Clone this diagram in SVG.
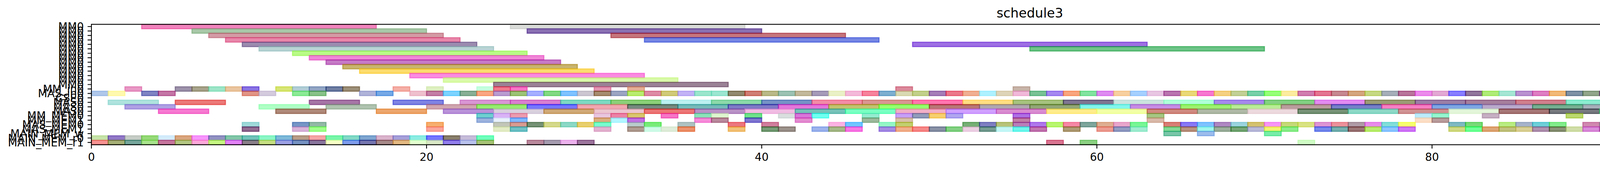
<svg xmlns="http://www.w3.org/2000/svg" width="5058" height="438" viewBox="0 0 5058 438">
<style>
.bars rect{fill:currentColor;stroke:currentColor;fill-opacity:.6;stroke-opacity:.6;stroke-width:2.6px;vector-effect:non-scaling-stroke}
.t{font-family:"DejaVu Sans","Liberation Sans",sans-serif;font-size:27.8px;fill:#000}
.yl{text-anchor:end}
.xl{text-anchor:middle}
.tk{stroke:#000;stroke-width:2.2px}
</style>
<rect width="5058" height="438" fill="#fff"/>
<text class="t xl" x="2636.4" y="45" style="font-size:33.3px">schedule3</text>
<g class="bars" transform="translate(234 62.3) scale(42.9 11.42)">
<g id="r0"><rect x="3" y="0" width="14" height="1" color="#e8308f"/><rect x="25" y="0" width="14" height="1" color="#c0c4c0"/></g>
<g id="r1"><rect x="6" y="1" width="14" height="1" color="#6ea36e"/><rect x="26" y="1" width="14" height="1" color="#3a117f"/></g>
<g id="r2"><rect x="7" y="2" width="14" height="1" color="#b75869"/><rect x="31" y="2" width="14" height="1" color="#a01b26"/></g>
<g id="r3"><rect x="8" y="3" width="14" height="1" color="#d93771"/><rect x="33" y="3" width="14" height="1" color="#1b37d2"/></g>
<g id="r4"><rect x="9" y="4" width="14" height="1" color="#583f7a"/><rect x="49" y="4" width="14" height="1" color="#5d11d2"/></g>
<g id="r5"><rect x="10" y="5" width="14" height="1" color="#8ab7b7"/><rect x="56" y="5" width="14" height="1" color="#0d9d37"/></g>
<g id="r6"><rect x="12" y="6" width="14" height="1" color="#8af737"/></g>
<g id="r7"><rect x="13" y="7" width="14" height="1" color="#e637bc"/></g>
<g id="r8"><rect x="14" y="8" width="14" height="1" color="#a021a0"/></g>
<g id="r9"><rect x="15" y="9" width="14" height="1" color="#a3820d"/></g>
<g id="r10"><rect x="16" y="10" width="14" height="1" color="#fac50d"/></g>
<g id="r11"><rect x="19" y="11" width="14" height="1" color="#f73fcd"/></g>
<g id="r12"><rect x="21" y="12" width="14" height="1" color="#c1f771"/></g>
<g id="r13"><rect x="24" y="13" width="14" height="1" color="#582f50"/></g>
<g id="r14">
<rect x="2" y="14" width="1" height="1" color="#d9559f"/><rect x="5" y="14" width="1" height="1" color="#5b4a72"/><rect x="6" y="14" width="1" height="1" color="#6d6540"/><rect x="7" y="14" width="1" height="1" color="#5ed4a3"/><rect x="8" y="14" width="1" height="1" color="#dca060"/><rect x="9" y="14" width="1" height="1" color="#3d17d0"/><rect x="11" y="14" width="1" height="1" color="#bdd41a"/><rect x="12" y="14" width="1" height="1" color="#7eaebd"/><rect x="13" y="14" width="1" height="1" color="#4a6a9c"/><rect x="14" y="14" width="1" height="1" color="#0f2866"/><rect x="15" y="14" width="1" height="1" color="#5c4520"/><rect x="18" y="14" width="1" height="1" color="#ec7a6c"/><rect x="20" y="14" width="1" height="1" color="#c8e59a"/><rect x="23" y="14" width="1" height="1" color="#a0ffca"/><rect x="24" y="14" width="1" height="1" color="#e41f40"/><rect x="25" y="14" width="1" height="1" color="#f21aa0"/><rect x="30" y="14" width="1" height="1" color="#d1507e"/><rect x="32" y="14" width="1" height="1" color="#d27a50"/><rect x="48" y="14" width="1" height="1" color="#c33d5a"/><rect x="55" y="14" width="1" height="1" color="#a48270"/>
</g>
<g id="r15">
<rect x="0" y="15" width="1" height="1" color="#7aa4dc"/><rect x="1" y="15" width="1" height="1" color="#fff57a"/><rect x="3" y="15" width="1" height="1" color="#2a3299"/><rect x="4" y="15" width="1" height="1" color="#9c1a6a"/><rect x="9" y="15" width="1" height="1" color="#cd4f36"/><rect x="10" y="15" width="1" height="1" color="#b8a8c8"/><rect x="12" y="15" width="1" height="1" color="#40dc50"/><rect x="13" y="15" width="1" height="1" color="#3a9a3a"/><rect x="16" y="15" width="1" height="1" color="#7a80c0"/><rect x="17" y="15" width="1" height="1" color="#1a6fd6"/><rect x="19" y="15" width="1" height="1" color="#e596ad"/><rect x="20" y="15" width="1" height="1" color="#9c2a6a"/><rect x="21" y="15" width="1" height="1" color="#26b8ff"/><rect x="22" y="15" width="1" height="1" color="#3a7a50"/><rect x="23" y="15" width="1" height="1" color="#f56a30"/><rect x="24" y="15" width="1" height="1" color="#8a5ab0"/><rect x="25" y="15" width="1" height="1" color="#5c9a1a"/><rect x="26" y="15" width="1" height="1" color="#6a7aff"/><rect x="27" y="15" width="1" height="1" color="#30c030"/><rect x="28" y="15" width="1" height="1" color="#2a9aff"/><rect x="29" y="15" width="1" height="1" color="#a8a0b0"/><rect x="30" y="15" width="1" height="1" color="#6a4010"/><rect x="31" y="15" width="1" height="1" color="#5a6a9a"/><rect x="32" y="15" width="1" height="1" color="#8ae010"/><rect x="33" y="15" width="1" height="1" color="#c8406a"/><rect x="34" y="15" width="1" height="1" color="#b0a620"/><rect x="35" y="15" width="1" height="1" color="#9a80f0"/><rect x="36" y="15" width="1" height="1" color="#5ad6ab"/><rect x="37" y="15" width="1" height="1" color="#5ad6b0"/>
<rect x="38" y="15" width="1" height="1" color="#4a3c10"/><rect x="39" y="15" width="1" height="1" color="#b02a1a"/><rect x="40" y="15" width="1" height="1" color="#8a8a3a"/><rect x="41" y="15" width="1" height="1" color="#5a9a80"/><rect x="42" y="15" width="1" height="1" color="#9a8a5a"/><rect x="43" y="15" width="1" height="1" color="#6a5a8a"/><rect x="44" y="15" width="1" height="1" color="#dce6a0"/><rect x="45" y="15" width="1" height="1" color="#ec8ac0"/><rect x="46" y="15" width="1" height="1" color="#f0305a"/><rect x="47" y="15" width="1" height="1" color="#2a7ab0"/><rect x="48" y="15" width="1" height="1" color="#c0c080"/><rect x="49" y="15" width="1" height="1" color="#9ab040"/><rect x="50" y="15" width="1" height="1" color="#6a2a8a"/><rect x="51" y="15" width="1" height="1" color="#e02040"/><rect x="52" y="15" width="1" height="1" color="#e67a4a"/><rect x="53" y="15" width="1" height="1" color="#7ae8ff"/><rect x="54" y="15" width="1" height="1" color="#c8b88a"/><rect x="55" y="15" width="1" height="1" color="#e68ac0"/><rect x="56" y="15" width="1" height="1" color="#209a50"/><rect x="57" y="15" width="1" height="1" color="#6a3ae6"/><rect x="58" y="15" width="1" height="1" color="#f56a2a"/><rect x="59" y="15" width="1" height="1" color="#30d060"/><rect x="60" y="15" width="1" height="1" color="#c840e6"/><rect x="61" y="15" width="1" height="1" color="#f2b060"/><rect x="62" y="15" width="1" height="1" color="#6ab0ff"/><rect x="63" y="15" width="1" height="1" color="#d8a0d0"/><rect x="64" y="15" width="1" height="1" color="#8a1a7a"/><rect x="65" y="15" width="1" height="1" color="#dcc020"/><rect x="66" y="15" width="1" height="1" color="#f020b0"/><rect x="67" y="15" width="1" height="1" color="#ecb030"/><rect x="68" y="15" width="1" height="1" color="#9ab050"/><rect x="69" y="15" width="1" height="1" color="#20b070"/><rect x="70" y="15" width="1" height="1" color="#50ff20"/><rect x="71" y="15" width="1" height="1" color="#f8e060"/><rect x="72" y="15" width="1" height="1" color="#b02a7a"/><rect x="73" y="15" width="1" height="1" color="#d01a4a"/><rect x="74" y="15" width="1" height="1" color="#a03a4a"/>
<rect x="75" y="15" width="1" height="1" color="#b86a2a"/><rect x="76" y="15" width="1" height="1" color="#a0c030"/><rect x="77" y="15" width="1" height="1" color="#6a7a8a"/><rect x="78" y="15" width="1" height="1" color="#8a1a5a"/><rect x="79" y="15" width="1" height="1" color="#e040e0"/><rect x="80" y="15" width="1" height="1" color="#d070b8"/><rect x="81" y="15" width="1" height="1" color="#3a2aff"/><rect x="82" y="15" width="1" height="1" color="#4a1a5a"/><rect x="83" y="15" width="1" height="1" color="#7ae020"/><rect x="84" y="15" width="1" height="1" color="#6ad6b8"/><rect x="85" y="15" width="1" height="1" color="#8a4ab0"/><rect x="86" y="15" width="1" height="1" color="#c82a9a"/><rect x="87" y="15" width="1" height="1" color="#e88a20"/><rect x="88" y="15" width="1" height="1" color="#2a4a6a"/><rect x="89" y="15" width="1" height="1" color="#4a6a40"/><rect x="90" y="15" width="1" height="1" color="#5a1a6a"/><rect x="91" y="15" width="1" height="1" color="#c0903a"/><rect x="92" y="15" width="1" height="1" color="#d0dcd8"/><rect x="93" y="15" width="1" height="1" color="#7a9a8a"/><rect x="94" y="15" width="1" height="1" color="#ff2a8a"/><rect x="95" y="15" width="1" height="1" color="#a01ae6"/><rect x="96" y="15" width="1" height="1" color="#4a3a30"/><rect x="97" y="15" width="1" height="1" color="#a0a4ac"/><rect x="98" y="15" width="1" height="1" color="#7a4a7a"/><rect x="99" y="15" width="1" height="1" color="#e02a5a"/><rect x="100" y="15" width="1" height="1" color="#1a4a3a"/><rect x="101" y="15" width="1" height="1" color="#209aff"/><rect x="102" y="15" width="1" height="1" color="#ff7a30"/><rect x="103" y="15" width="1" height="1" color="#3a7ab0"/><rect x="104" y="15" width="1" height="1" color="#6ae620"/><rect x="105" y="15" width="1" height="1" color="#8ae07a"/><rect x="106" y="15" width="1" height="1" color="#b87a2a"/><rect x="107" y="15" width="1" height="1" color="#30aac0"/>
</g>
<g id="r16"></g>
<g id="r17">
<rect x="1" y="17" width="3" height="1" color="#7ad0c8"/><rect x="5" y="17" width="3" height="1" color="#e02020"/><rect x="13" y="17" width="3" height="1" color="#6a1a6a"/><rect x="18" y="17" width="3" height="1" color="#2a30d0"/><rect x="22" y="17" width="3" height="1" color="#c050b8"/><rect x="25" y="17" width="3" height="1" color="#c02ab0"/><rect x="28" y="17" width="3" height="1" color="#2ac09a"/><rect x="31" y="17" width="3" height="1" color="#40b020"/><rect x="34" y="17" width="3" height="1" color="#90e6e8"/><rect x="37" y="17" width="3" height="1" color="#40c070"/><rect x="40" y="17" width="3" height="1" color="#1a4aa0"/><rect x="43" y="17" width="3" height="1" color="#ea406a"/><rect x="46" y="17" width="3" height="1" color="#c0504a"/><rect x="49" y="17" width="3" height="1" color="#ff1a7a"/><rect x="52" y="17" width="3" height="1" color="#ffc830"/><rect x="55" y="17" width="3" height="1" color="#6a9a2a"/><rect x="58" y="17" width="3" height="1" color="#2a1a4a"/><rect x="61" y="17" width="3" height="1" color="#a8d0c8"/><rect x="64" y="17" width="3" height="1" color="#7affc0"/><rect x="67" y="17" width="3" height="1" color="#6a3ae0"/><rect x="70" y="17" width="3" height="1" color="#30b030"/><rect x="73" y="17" width="3" height="1" color="#d040e6"/><rect x="76" y="17" width="3" height="1" color="#5a5a1a"/><rect x="79" y="17" width="3" height="1" color="#5a2a6a"/><rect x="82" y="17" width="3" height="1" color="#6a2a5a"/><rect x="85" y="17" width="3" height="1" color="#b02a40"/><rect x="88" y="17" width="3" height="1" color="#40e0b0"/><rect x="91" y="17" width="3" height="1" color="#7a80c8"/><rect x="94" y="17" width="3" height="1" color="#b8eeb0"/><rect x="97" y="17" width="3" height="1" color="#4a7a40"/><rect x="100" y="17" width="3" height="1" color="#a8b0e6"/><rect x="103" y="17" width="3" height="1" color="#dca0a0"/><rect x="106" y="17" width="3" height="1" color="#1a20d0"/>
</g>
<g id="r18">
<rect x="2" y="18" width="3" height="1" color="#7a60d0"/><rect x="10" y="18" width="3" height="1" color="#7affa0"/><rect x="14" y="18" width="3" height="1" color="#7a9a7a"/><rect x="20" y="18" width="3" height="1" color="#b06a7a"/><rect x="23" y="18" width="3" height="1" color="#50e010"/><rect x="26" y="18" width="3" height="1" color="#1a1aff"/><rect x="29" y="18" width="3" height="1" color="#e86a7a"/><rect x="32" y="18" width="3" height="1" color="#1a3a2a"/><rect x="35" y="18" width="3" height="1" color="#1a8a8a"/><rect x="38" y="18" width="3" height="1" color="#2a20a0"/><rect x="41" y="18" width="3" height="1" color="#d01ac0"/><rect x="44" y="18" width="3" height="1" color="#9a9a10"/><rect x="47" y="18" width="3" height="1" color="#50ff10"/><rect x="50" y="18" width="3" height="1" color="#8a1a1a"/><rect x="53" y="18" width="3" height="1" color="#7a6a7a"/><rect x="56" y="18" width="3" height="1" color="#4a6a1a"/><rect x="59" y="18" width="3" height="1" color="#30f0e0"/><rect x="62" y="18" width="3" height="1" color="#a040d0"/><rect x="65" y="18" width="3" height="1" color="#5ae610"/><rect x="68" y="18" width="3" height="1" color="#8ae050"/><rect x="71" y="18" width="3" height="1" color="#8a5a5a"/><rect x="74" y="18" width="3" height="1" color="#1a2aa0"/><rect x="77" y="18" width="3" height="1" color="#f02a9a"/><rect x="80" y="18" width="3" height="1" color="#2a6ad0"/><rect x="83" y="18" width="3" height="1" color="#8a70a8"/><rect x="86" y="18" width="3" height="1" color="#1a7a4a"/><rect x="89" y="18" width="3" height="1" color="#6a7a8a"/><rect x="92" y="18" width="3" height="1" color="#a0ff30"/><rect x="95" y="18" width="3" height="1" color="#80ff10"/><rect x="98" y="18" width="3" height="1" color="#20b0a0"/><rect x="101" y="18" width="3" height="1" color="#8aa030"/><rect x="104" y="18" width="3" height="1" color="#1a9a7a"/><rect x="107" y="18" width="3" height="1" color="#a0700a"/>
</g>
<g id="r19">
<rect x="4" y="19" width="3" height="1" color="#f020b0"/><rect x="11" y="19" width="3" height="1" color="#7a3a20"/><rect x="17" y="19" width="3" height="1" color="#e06a0a"/><rect x="21" y="19" width="3" height="1" color="#8a4ac0"/><rect x="24" y="19" width="3" height="1" color="#c0b0c8"/><rect x="27" y="19" width="3" height="1" color="#b0701a"/><rect x="30" y="19" width="3" height="1" color="#e0a0b0"/><rect x="33" y="19" width="3" height="1" color="#e01a1a"/><rect x="36" y="19" width="3" height="1" color="#8a4aa0"/><rect x="39" y="19" width="3" height="1" color="#e890d0"/><rect x="42" y="19" width="3" height="1" color="#1a9a8a"/><rect x="45" y="19" width="3" height="1" color="#20ff9a"/><rect x="48" y="19" width="3" height="1" color="#ea7aa0"/><rect x="51" y="19" width="3" height="1" color="#b060ff"/><rect x="54" y="19" width="3" height="1" color="#c040b0"/><rect x="57" y="19" width="3" height="1" color="#ffe040"/><rect x="60" y="19" width="3" height="1" color="#eaff6a"/><rect x="63" y="19" width="3" height="1" color="#b03a2a"/><rect x="66" y="19" width="3" height="1" color="#7a8a6a"/><rect x="69" y="19" width="3" height="1" color="#e0c0c8"/><rect x="72" y="19" width="3" height="1" color="#1a4a1a"/><rect x="75" y="19" width="3" height="1" color="#40c0a0"/><rect x="78" y="19" width="3" height="1" color="#b04a4a"/><rect x="81" y="19" width="3" height="1" color="#d0f0c0"/><rect x="84" y="19" width="3" height="1" color="#6a1a1a"/><rect x="87" y="19" width="3" height="1" color="#1a202a"/><rect x="90" y="19" width="3" height="1" color="#30e070"/><rect x="93" y="19" width="3" height="1" color="#a030a0"/><rect x="96" y="19" width="3" height="1" color="#c8c040"/><rect x="99" y="19" width="3" height="1" color="#5a8a4a"/><rect x="102" y="19" width="3" height="1" color="#7ae8d0"/><rect x="105" y="19" width="3" height="1" color="#c04a8a"/><rect x="108" y="19" width="3" height="1" color="#7a8aaa"/>
</g>
<g id="r20">
<rect x="23" y="20" width="1" height="1" color="#10b0b0"/><rect x="24" y="20" width="1" height="1" color="#c080f0"/><rect x="25" y="20" width="1" height="1" color="#e05a7a"/><rect x="30" y="20" width="1" height="1" color="#d8a0c8"/><rect x="31" y="20" width="1" height="1" color="#e0306a"/><rect x="32" y="20" width="1" height="1" color="#c0a010"/><rect x="34" y="20" width="1" height="1" color="#f01aa0"/><rect x="36" y="20" width="1" height="1" color="#40d08a"/><rect x="37" y="20" width="1" height="1" color="#c8f0b0"/><rect x="39" y="20" width="1" height="1" color="#10d040"/><rect x="41" y="20" width="1" height="1" color="#c0c8c8"/><rect x="42" y="20" width="1" height="1" color="#c01ac0"/><rect x="43" y="20" width="1" height="1" color="#10ffe6"/><rect x="46" y="20" width="1" height="1" color="#50e0b0"/><rect x="48" y="20" width="1" height="1" color="#a060f0"/><rect x="49" y="20" width="1" height="1" color="#4a5a8a"/><rect x="50" y="20" width="1" height="1" color="#f0b010"/><rect x="51" y="20" width="1" height="1" color="#7a6ae6"/><rect x="55" y="20" width="1" height="1" color="#7a10d0"/><rect x="63" y="20" width="1" height="1" color="#6aa030"/><rect x="79" y="20" width="1" height="1" color="#90e0f8"/><rect x="80" y="20" width="1" height="1" color="#50f0b0"/><rect x="83" y="20" width="1" height="1" color="#a07a9a"/><rect x="88" y="20" width="1" height="1" color="#90c010"/>
</g>
<g id="r21">
<rect x="23" y="21" width="1" height="1" color="#5a80c8"/><rect x="24" y="21" width="1" height="1" color="#d8e8f8"/><rect x="25" y="21" width="1" height="1" color="#2a8aff"/><rect x="30" y="21" width="1" height="1" color="#c07a2a"/><rect x="31" y="21" width="1" height="1" color="#80f0ff"/><rect x="32" y="21" width="1" height="1" color="#9a10d0"/><rect x="36" y="21" width="1" height="1" color="#f040c0"/><rect x="37" y="21" width="1" height="1" color="#8a3a5a"/><rect x="39" y="21" width="1" height="1" color="#2a1ab0"/><rect x="42" y="21" width="1" height="1" color="#d040b0"/><rect x="46" y="21" width="1" height="1" color="#5a8a5a"/><rect x="48" y="21" width="1" height="1" color="#c09a70"/><rect x="55" y="21" width="1" height="1" color="#9a2a6a"/><rect x="63" y="21" width="1" height="1" color="#c08a70"/><rect x="79" y="21" width="1" height="1" color="#f8c8a0"/><rect x="80" y="21" width="1" height="1" color="#8a5a5a"/>
</g>
<g id="r22">
<rect x="9" y="22" width="1" height="1" color="#60c0c0"/><rect x="12" y="22" width="1" height="1" color="#1a50a0"/><rect x="13" y="22" width="1" height="1" color="#4a8a6a"/><rect x="20" y="22" width="1" height="1" color="#f07a10"/><rect x="24" y="22" width="1" height="1" color="#9aa08a"/><rect x="25" y="22" width="1" height="1" color="#c05a4a"/><rect x="26" y="22" width="1" height="1" color="#1a4a1a"/><rect x="27" y="22" width="1" height="1" color="#b8c040"/><rect x="28" y="22" width="1" height="1" color="#40c0a0"/><rect x="29" y="22" width="1" height="1" color="#d8b010"/><rect x="30" y="22" width="1" height="1" color="#20ffb0"/><rect x="32" y="22" width="1" height="1" color="#8aaaaa"/><rect x="33" y="22" width="1" height="1" color="#20e020"/><rect x="35" y="22" width="1" height="1" color="#7a9a9a"/><rect x="38" y="22" width="1" height="1" color="#e01a2a"/><rect x="40" y="22" width="1" height="1" color="#b02a5a"/><rect x="44" y="22" width="1" height="1" color="#f880d0"/><rect x="45" y="22" width="1" height="1" color="#10a0ff"/><rect x="47" y="22" width="1" height="1" color="#50f0a0"/><rect x="48" y="22" width="1" height="1" color="#9ab010"/><rect x="52" y="22" width="1" height="1" color="#1a7a1a"/><rect x="53" y="22" width="1" height="1" color="#2a2a9a"/><rect x="54" y="22" width="1" height="1" color="#8a9a20"/><rect x="55" y="22" width="1" height="1" color="#8a2a8a"/><rect x="56" y="22" width="1" height="1" color="#7a20e0"/><rect x="57" y="22" width="1" height="1" color="#8af010"/><rect x="58" y="22" width="1" height="1" color="#f03a6a"/><rect x="59" y="22" width="1" height="1" color="#2a6a5a"/><rect x="60" y="22" width="1" height="1" color="#c87a4a"/><rect x="61" y="22" width="1" height="1" color="#d86aa8"/><rect x="62" y="22" width="1" height="1" color="#20f050"/><rect x="64" y="22" width="1" height="1" color="#c02a1a"/><rect x="65" y="22" width="1" height="1" color="#3a20f0"/><rect x="66" y="22" width="1" height="1" color="#2a9aff"/><rect x="67" y="22" width="1" height="1" color="#7a3a9a"/><rect x="68" y="22" width="1" height="1" color="#5ab8c8"/><rect x="69" y="22" width="1" height="1" color="#b89a10"/><rect x="70" y="22" width="1" height="1" color="#f050f0"/><rect x="71" y="22" width="1" height="1" color="#a0c020"/><rect x="72" y="22" width="1" height="1" color="#c0d030"/><rect x="73" y="22" width="1" height="1" color="#c850b8"/><rect x="74" y="22" width="1" height="1" color="#e04a5a"/><rect x="75" y="22" width="1" height="1" color="#7a5a6a"/><rect x="76" y="22" width="1" height="1" color="#d840e0"/><rect x="77" y="22" width="1" height="1" color="#30c8c0"/><rect x="78" y="22" width="1" height="1" color="#f0ff10"/><rect x="81" y="22" width="1" height="1" color="#2a8a9a"/><rect x="82" y="22" width="1" height="1" color="#20c020"/><rect x="84" y="22" width="1" height="1" color="#8ae030"/><rect x="85" y="22" width="1" height="1" color="#6a80a8"/><rect x="86" y="22" width="1" height="1" color="#10b0c0"/><rect x="87" y="22" width="1" height="1" color="#30e040"/><rect x="89" y="22" width="1" height="1" color="#b03a7a"/><rect x="90" y="22" width="1" height="1" color="#7a7a8a"/><rect x="91" y="22" width="1" height="1" color="#1a4a4a"/><rect x="92" y="22" width="1" height="1" color="#e050e0"/><rect x="93" y="22" width="1" height="1" color="#1a207a"/><rect x="94" y="22" width="1" height="1" color="#d0c0e0"/><rect x="95" y="22" width="1" height="1" color="#c010e0"/><rect x="96" y="22" width="1" height="1" color="#a0a050"/><rect x="97" y="22" width="1" height="1" color="#c8b0c0"/><rect x="98" y="22" width="1" height="1" color="#f8b060"/><rect x="100" y="22" width="1" height="1" color="#c0a0b0"/><rect x="101" y="22" width="1" height="1" color="#d020a0"/><rect x="102" y="22" width="1" height="1" color="#20a030"/><rect x="103" y="22" width="1" height="1" color="#5a2a7a"/><rect x="105" y="22" width="1" height="1" color="#50c840"/><rect x="106" y="22" width="1" height="1" color="#b04a7a"/><rect x="107" y="22" width="1" height="1" color="#3a80e0"/>
</g>
<g id="r23">
<rect x="9" y="23" width="1" height="1" color="#4a0a4a"/><rect x="12" y="23" width="1" height="1" color="#c080c0"/><rect x="13" y="23" width="1" height="1" color="#60ff40"/><rect x="20" y="23" width="1" height="1" color="#f86a5a"/><rect x="24" y="23" width="1" height="1" color="#d0e0a0"/><rect x="25" y="23" width="1" height="1" color="#109aa0"/><rect x="30" y="23" width="1" height="1" color="#d080b0"/><rect x="32" y="23" width="1" height="1" color="#7a5a4a"/><rect x="33" y="23" width="1" height="1" color="#b0f8d8"/><rect x="34" y="23" width="1" height="1" color="#c8e0c0"/><rect x="35" y="23" width="1" height="1" color="#e04a0a"/><rect x="38" y="23" width="1" height="1" color="#e89a20"/><rect x="40" y="23" width="1" height="1" color="#1a5a1a"/><rect x="41" y="23" width="1" height="1" color="#5a4a40"/><rect x="43" y="23" width="1" height="1" color="#5a80e0"/><rect x="44" y="23" width="1" height="1" color="#6a8a3a"/><rect x="45" y="23" width="1" height="1" color="#f020d0"/><rect x="47" y="23" width="1" height="1" color="#6a40d0"/><rect x="48" y="23" width="1" height="1" color="#e87a40"/><rect x="49" y="23" width="1" height="1" color="#f03a3a"/><rect x="50" y="23" width="1" height="1" color="#3a4a6a"/><rect x="51" y="23" width="1" height="1" color="#30b030"/><rect x="52" y="23" width="1" height="1" color="#e0b0d0"/><rect x="53" y="23" width="1" height="1" color="#1a5a4a"/><rect x="54" y="23" width="1" height="1" color="#a0f0f0"/><rect x="55" y="23" width="1" height="1" color="#10f0e0"/><rect x="56" y="23" width="1" height="1" color="#9a1a7a"/><rect x="58" y="23" width="1" height="1" color="#7a5a1a"/><rect x="60" y="23" width="1" height="1" color="#e05a4a"/><rect x="61" y="23" width="1" height="1" color="#4a5a9a"/><rect x="62" y="23" width="1" height="1" color="#60e0b0"/><rect x="64" y="23" width="1" height="1" color="#30c050"/><rect x="65" y="23" width="1" height="1" color="#8a4a2a"/><rect x="66" y="23" width="1" height="1" color="#60f0e0"/><rect x="67" y="23" width="1" height="1" color="#5a7a5a"/><rect x="68" y="23" width="1" height="1" color="#1a6a1a"/><rect x="69" y="23" width="1" height="1" color="#8a8ac0"/><rect x="70" y="23" width="1" height="1" color="#e8f010"/><rect x="71" y="23" width="1" height="1" color="#40e040"/><rect x="73" y="23" width="1" height="1" color="#1a3ae0"/><rect x="74" y="23" width="1" height="1" color="#1a7a7a"/><rect x="75" y="23" width="1" height="1" color="#5a1a1a"/><rect x="76" y="23" width="1" height="1" color="#8ae010"/><rect x="77" y="23" width="1" height="1" color="#40a0ff"/><rect x="78" y="23" width="1" height="1" color="#b020f0"/><rect x="81" y="23" width="1" height="1" color="#b0c030"/><rect x="82" y="23" width="1" height="1" color="#10ff50"/><rect x="83" y="23" width="1" height="1" color="#c86a1a"/><rect x="84" y="23" width="1" height="1" color="#9a9a2a"/><rect x="85" y="23" width="1" height="1" color="#c0b050"/><rect x="86" y="23" width="1" height="1" color="#7a4a7a"/><rect x="87" y="23" width="1" height="1" color="#3a4a1a"/><rect x="88" y="23" width="1" height="1" color="#b0c870"/><rect x="89" y="23" width="1" height="1" color="#c040c0"/><rect x="90" y="23" width="1" height="1" color="#9a2a8a"/><rect x="91" y="23" width="1" height="1" color="#e0f010"/><rect x="93" y="23" width="1" height="1" color="#e04a80"/><rect x="94" y="23" width="1" height="1" color="#a0e8a0"/><rect x="95" y="23" width="1" height="1" color="#f03a10"/><rect x="96" y="23" width="1" height="1" color="#50e030"/><rect x="97" y="23" width="1" height="1" color="#e850f0"/><rect x="98" y="23" width="1" height="1" color="#6a4a3a"/><rect x="99" y="23" width="1" height="1" color="#3a7a1a"/><rect x="100" y="23" width="1" height="1" color="#b090f0"/><rect x="101" y="23" width="1" height="1" color="#6a1a8a"/><rect x="102" y="23" width="1" height="1" color="#f05a5a"/><rect x="104" y="23" width="1" height="1" color="#c01a3a"/><rect x="105" y="23" width="1" height="1" color="#a0d860"/><rect x="106" y="23" width="1" height="1" color="#40c8c8"/><rect x="107" y="23" width="1" height="1" color="#40ffd0"/>
</g>
<g id="r24">
<rect x="64" y="24" width="1" height="1" color="#20a070"/><rect x="66" y="24" width="1" height="1" color="#5a90e0"/><rect x="70" y="24" width="1" height="1" color="#20e070"/><rect x="98" y="24" width="1" height="1" color="#30f0e0"/><rect x="99" y="24" width="1" height="1" color="#20b0f0"/><rect x="100" y="24" width="1" height="1" color="#4aa090"/><rect x="101" y="24" width="1" height="1" color="#10a0c0"/><rect x="105" y="24" width="1" height="1" color="#c8d0f0"/><rect x="106" y="24" width="1" height="1" color="#ff7a8a"/><rect x="109" y="24" width="1" height="1" color="#1a4a1a"/><rect x="110" y="24" width="1" height="1" color="#b0a010"/><rect x="111" y="24" width="1" height="1" color="#a03a1a"/>
</g>
<g id="r25">
<rect x="0" y="25" width="1" height="1" color="#a0d070"/><rect x="1" y="25" width="1" height="1" color="#4a20a0"/><rect x="2" y="25" width="1" height="1" color="#a0aaa0"/><rect x="3" y="25" width="1" height="1" color="#50c020"/><rect x="4" y="25" width="1" height="1" color="#b8e0f8"/><rect x="5" y="25" width="1" height="1" color="#c06a2a"/><rect x="6" y="25" width="1" height="1" color="#f050f8"/><rect x="7" y="25" width="1" height="1" color="#4a4a9a"/><rect x="8" y="25" width="1" height="1" color="#30a070"/><rect x="9" y="25" width="1" height="1" color="#109a8a"/><rect x="10" y="25" width="1" height="1" color="#40f0a0"/><rect x="11" y="25" width="1" height="1" color="#2a8ac0"/><rect x="12" y="25" width="1" height="1" color="#8a5a3a"/><rect x="13" y="25" width="1" height="1" color="#f06a6a"/><rect x="14" y="25" width="1" height="1" color="#20f070"/><rect x="15" y="25" width="1" height="1" color="#30c0a0"/><rect x="16" y="25" width="1" height="1" color="#2a6ab0"/><rect x="17" y="25" width="1" height="1" color="#c080a8"/><rect x="18" y="25" width="1" height="1" color="#6a60c0"/><rect x="19" y="25" width="1" height="1" color="#40e0d0"/><rect x="20" y="25" width="1" height="1" color="#1a1aff"/><rect x="21" y="25" width="1" height="1" color="#3a2a0a"/><rect x="22" y="25" width="1" height="1" color="#a090c0"/><rect x="23" y="25" width="1" height="1" color="#10ff90"/><rect x="99" y="25" width="1" height="1" color="#30c050"/><rect x="104" y="25" width="1" height="1" color="#f0b0e0"/>
</g>
<g id="r26">
<rect x="0" y="26" width="1" height="1" color="#f04a4a"/><rect x="1" y="26" width="1" height="1" color="#6a7a1a"/><rect x="2" y="26" width="1" height="1" color="#1a6a5a"/><rect x="3" y="26" width="1" height="1" color="#70d040"/><rect x="4" y="26" width="1" height="1" color="#a01a5a"/><rect x="5" y="26" width="1" height="1" color="#80a030"/><rect x="6" y="26" width="1" height="1" color="#f870c0"/><rect x="7" y="26" width="1" height="1" color="#a0f030"/><rect x="8" y="26" width="1" height="1" color="#d030f0"/><rect x="9" y="26" width="1" height="1" color="#3a2a3a"/><rect x="10" y="26" width="1" height="1" color="#a0c830"/><rect x="11" y="26" width="1" height="1" color="#5a60d0"/><rect x="12" y="26" width="1" height="1" color="#1a4a9a"/><rect x="13" y="26" width="1" height="1" color="#3a1a5a"/><rect x="14" y="26" width="1" height="1" color="#f0ffa0"/><rect x="15" y="26" width="1" height="1" color="#2a5ae0"/><rect x="16" y="26" width="1" height="1" color="#1a1a7a"/><rect x="17" y="26" width="1" height="1" color="#6a3a3a"/><rect x="18" y="26" width="1" height="1" color="#d08a30"/><rect x="19" y="26" width="1" height="1" color="#d0ffb0"/><rect x="20" y="26" width="1" height="1" color="#c0d8a0"/><rect x="21" y="26" width="1" height="1" color="#4a2ae0"/><rect x="22" y="26" width="1" height="1" color="#8a9ae0"/><rect x="23" y="26" width="1" height="1" color="#6a9a1a"/><rect x="26" y="26" width="1" height="1" color="#8a3a5a"/><rect x="27" y="26" width="1" height="1" color="#6a5a7a"/><rect x="28" y="26" width="1" height="1" color="#e080e0"/><rect x="29" y="26" width="1" height="1" color="#5a1a5a"/><rect x="57" y="26" width="1" height="1" color="#c01a4a"/><rect x="59" y="26" width="1" height="1" color="#40b030"/><rect x="72" y="26" width="1" height="1" color="#b0f8a0"/><rect x="92" y="26" width="1" height="1" color="#3a10e0"/><rect x="103" y="26" width="1" height="1" color="#ffff1a"/>
</g>
</g>
<g id="axes">
<rect x="234" y="62.3" width="4804.8" height="308.4" fill="none" stroke="#000" stroke-width="2.2"/>
<path class="tk" d="M224.3 68h9.7M224.3 79.4h9.7M224.3 90.8h9.7M224.3 102.3h9.7M224.3 113.7h9.7M224.3 125.1h9.7M224.3 136.5h9.7M224.3 147.9h9.7M224.3 159.4h9.7M224.3 170.8h9.7M224.3 182.2h9.7M224.3 193.6h9.7M224.3 205h9.7M224.3 216.5h9.7M224.3 227.9h9.7M224.3 239.3h9.7M224.3 250.7h9.7M224.3 262.1h9.7M224.3 273.6h9.7M224.3 285h9.7M224.3 296.4h9.7M224.3 307.8h9.7M224.3 319.2h9.7M224.3 330.7h9.7M224.3 342.1h9.7M224.3 353.5h9.7M224.3 364.9h9.7"/>
<path class="tk" d="M234 370.7v9.7M1092 370.7v9.7M1950 370.7v9.7M2808 370.7v9.7M3666 370.7v9.7M4524 370.7v9.7"/>
</g>
<g id="xlabels" class="t xl">
<text x="234" y="411.7">0</text><text x="1092" y="411.7">20</text><text x="1950" y="411.7">40</text><text x="2808" y="411.7">60</text><text x="3666" y="411.7">80</text><text x="4524" y="411.7">100</text>
</g>
<g id="ylabels" class="t yl">
<text x="214.6" y="78">MM0</text><text x="214.6" y="89.4">MM0</text><text x="214.6" y="100.8">MM0</text><text x="214.6" y="112.3">MM0</text><text x="214.6" y="123.7">MM0</text><text x="214.6" y="135.1">MM0</text><text x="214.6" y="146.5">MM0</text><text x="214.6" y="157.9">MM0</text><text x="214.6" y="169.4">MM0</text><text x="214.6" y="180.8">MM0</text><text x="214.6" y="192.2">MM0</text><text x="214.6" y="203.6">MM0</text><text x="214.6" y="215">MM0</text><text x="214.6" y="226.5">MM0</text>
<text x="214.6" y="237.9">MM_in0</text><text x="214.6" y="249.3">MAS_in0</text><text x="214.6" y="260.7">CSE0</text><text x="214.6" y="272.1">MAS0</text><text x="214.6" y="283.6">MAS0</text><text x="214.6" y="295">MAS0</text><text x="214.6" y="306.4">MM_MEM0</text><text x="214.6" y="317.8">MM_MEM1</text><text x="214.6" y="329.2">MAS_MEM0</text><text x="214.6" y="340.7">MAS_MEM1</text><text x="214.6" y="352.1">MAIN_MEM_w</text><text x="214.6" y="363.5">MAIN_MEM_r0</text><text x="214.6" y="374.9">MAIN_MEM_r1</text>
</g>
</svg>
